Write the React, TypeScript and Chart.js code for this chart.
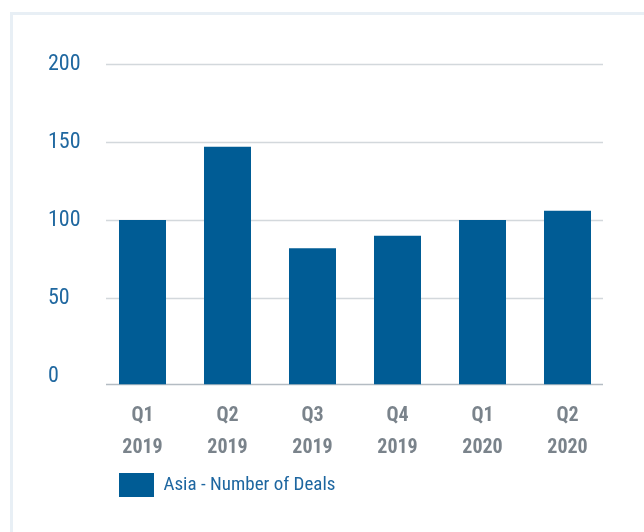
import React, { useEffect, useRef } from "react";
import { Chart, registerables } from "chart.js";

Chart.register(...registerables);

const categories: string[][] = [
  ["Q1", "2019"],
  ["Q2", "2019"],
  ["Q3", "2019"],
  ["Q4", "2019"],
  ["Q1", "2020"],
  ["Q2", "2020"],
];
const dealCounts: number[] = [100, 147, 82, 90, 100, 106];
const yTickValues: number[] = [0, 50, 100, 150, 200];
const seriesLabel = "Asia - Number of Deals";

const FONT = "'Roboto Condensed', 'Liberation Sans Narrow', 'DejaVu Sans Condensed', sans-serif";
const BAR_COLOR = "#005c95";
const Y_MIN = -5.3;

const gridPlugin = {
  id: "customGrid",
  afterLayout(chart: any) {
    if (chart.legend) {
      chart.legend.left += 7;
      chart.legend.right += 7;
    }
  },
  beforeDatasetsDraw(chart: any) {
    const { ctx, chartArea, scales } = chart;
    const y = scales.y;
    const x0 = chartArea.left + 6;
    const x1 = chartArea.right - 7;
    ctx.save();
    yTickValues.forEach((v) => {
      if (v === 0) return;
      const py = Math.round(y.getPixelForValue(v)) + 0.5;
      ctx.strokeStyle = "#d3d8dc";
      ctx.lineWidth = 1.5;
      ctx.beginPath();
      ctx.moveTo(x0, py);
      ctx.lineTo(x1, py);
      ctx.stroke();
    });
    const by = chartArea.bottom;
    ctx.strokeStyle = "#b4bcc3";
    ctx.lineWidth = 1.5;
    ctx.beginPath();
    ctx.moveTo(x0, by);
    ctx.lineTo(x1, by);
    ctx.stroke();
    ctx.restore();
  },
};

export default function App() {
  const canvasRef = useRef<HTMLCanvasElement | null>(null);

  useEffect(() => {
    if (!canvasRef.current) return;
    const chart = new Chart(canvasRef.current, {
      type: "bar",
      data: {
        labels: categories,
        datasets: [
          {
            label: seriesLabel,
            data: dealCounts,
            backgroundColor: BAR_COLOR,
            borderWidth: 0,
            base: Y_MIN,
            categoryPercentage: 1,
            barPercentage: 0.553,
          },
        ],
      },
      options: {
        animation: false,
        responsive: false,
        maintainAspectRatio: false,
        layout: { padding: { left: 48, right: 34, top: 64, bottom: 25 } },
        scales: {
          x: {
            grid: { display: false, drawTicks: false },
            border: { display: false },
            afterFit: (scale: any) => {
              scale.height = 76.5;
            },
            ticks: {
              color: "#7a838b",
              padding: 15.5,
              font: { family: FONT, size: 20, weight: "bold", lineHeight: 1.6 },
              maxRotation: 0,
              autoSkip: false,
            },
          },
          y: {
            min: Y_MIN,
            max: 200,
            grid: { display: false, drawTicks: false },
            border: { display: false },
            afterBuildTicks: (scale: any) => {
              scale.ticks = yTickValues.map((v) => ({ value: v }));
            },
            afterFit: (scale: any) => {
              scale.width = 52;
            },
            ticks: {
              color: "#2068a0",
              crossAlign: "far",
              font: { family: FONT, size: 22 },
            },
          },
        },
        plugins: {
          legend: {
            position: "bottom",
            align: "start",
            fullSize: false,
            labels: {
              boxWidth: 35,
              boxHeight: 24,
              padding: 12,
              color: "#1d66a0",
              font: { family: FONT, size: 19 },
            },
          },
          tooltip: { enabled: false },
        },
      },
      plugins: [gridPlugin],
    });
    return () => chart.destroy();
  }, []);

  return (
    <div style={{ position: "fixed", left: 0, top: 0, width: 644, height: 532, background: "#ffffff", overflow: "hidden" }}>
      <div
        style={{
          position: "absolute",
          left: 10,
          top: 12,
          width: 700,
          height: 600,
          border: "3px solid #e8eff5",
          boxSizing: "border-box",
        }}
      />
      <canvas ref={canvasRef} width={644} height={532} style={{ position: "absolute", left: 0, top: 0 }} />
    </div>
  );
}
